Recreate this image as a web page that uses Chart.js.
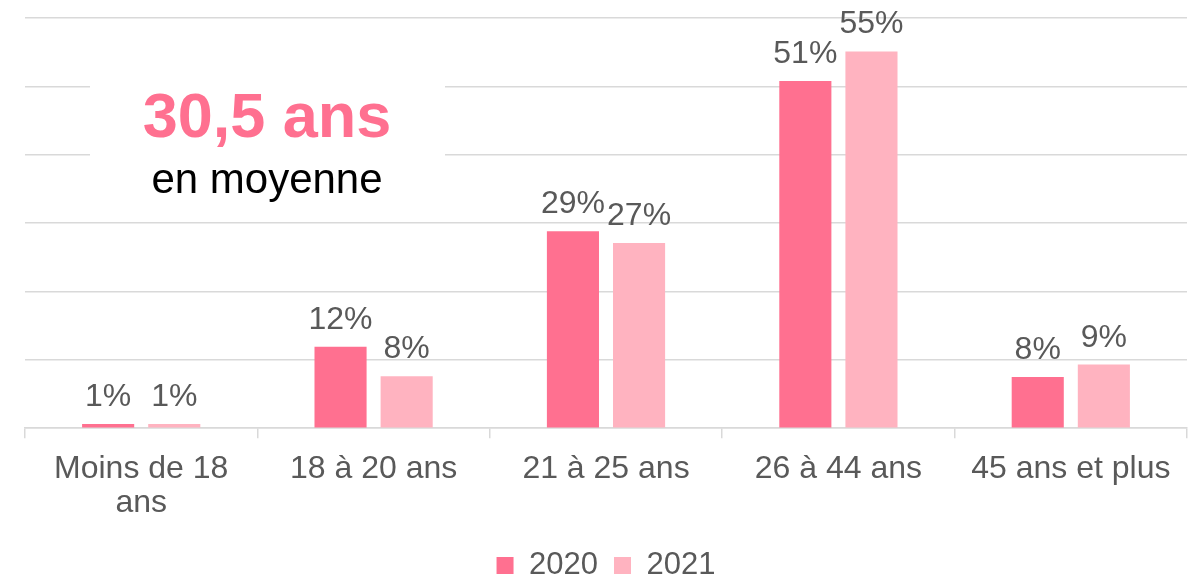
<!DOCTYPE html>
<html>
<head>
<meta charset="utf-8">
<script src="https://cdn.jsdelivr.net/npm/chart.js@4.4.1/dist/chart.umd.min.js"></script>
<style>
  html, body { margin: 0; padding: 0; background: #fff; }
  #wrap { width: 1195px; height: 574px; }
</style>
</head>
<body>
<div id="wrap"><canvas id="ageChart" width="1195" height="574"></canvas></div>
<script>
// tranches d'âge
const categories = [["Moins de 18", "ans"], "18 à 20 ans", "21 à 25 ans", "26 à 44 ans", "45 ans et plus"];
const seriesNames = ["2020", "2021"];
const values2020 = [0.6, 11.9, 28.8, 50.8, 7.5];
const values2021 = [0.6, 7.6, 27.1, 55.1, 9.3];
const valueLabels2020 = ["1%", "12%", "29%", "51%", "8%"];
const valueLabels2021 = ["1%", "8%", "27%", "55%", "9%"];
const yTicks = [0, 10, 20, 30, 40, 50, 60];

const colors = ["#FF7090", "#FFB3C0"];
const textGrey = "#595959";
const fontFamily = "'Liberation Sans', Arial, sans-serif";
// ajustements de hauteur pour placer la légende et l'axe x
const legendShift = 17;
const xAxisExtra = 0;

// étiquettes au-dessus des barres
const barLabels = {
    id: "barLabels",
    afterDatasetsDraw(chart) {
        const ctx = chart.ctx;
        const texts = [valueLabels2020, valueLabels2021];
        ctx.save();
        ctx.font = "32px " + fontFamily;
        ctx.fillStyle = textGrey;
        ctx.textAlign = "center";
        ctx.textBaseline = "alphabetic";
        chart.data.datasets.forEach((ds, i) => {
            chart.getDatasetMeta(i).data.forEach((bar, j) => {
                ctx.fillText(texts[i][j], bar.x, bar.y - 18);
            });
        });
        ctx.restore();
    }
};

// encadré "30,5 ans en moyenne"
const averageBox = {
    id: "averageBox",
    beforeDatasetsDraw(chart) {
        const ctx = chart.ctx;
        ctx.save();
        ctx.fillStyle = "#ffffff";
        ctx.fillRect(90, 60, 355, 150);
        ctx.textAlign = "center";
        ctx.textBaseline = "alphabetic";
        ctx.fillStyle = "#FF7090";
        ctx.font = "bold 63px " + fontFamily;
        ctx.fillText("30,5 ans", 267, 137);
        ctx.fillStyle = "#000000";
        ctx.font = "42px " + fontFamily;
        ctx.fillText("en moyenne", 267, 193);
        ctx.restore();
    }
};

// légende plus basse
const legendOffset = {
    id: "legendOffset",
    beforeInit(chart) {
        const origFit = chart.legend.fit;
        chart.legend.fit = function () {
            origFit.call(this);
            this.height -= legendShift;
        };
    }
};

new Chart(document.getElementById("ageChart"), {
    type: "bar",
    data: {
        labels: categories,
        datasets: [
            { label: seriesNames[0], data: values2020, backgroundColor: colors[0] },
            { label: seriesNames[1], data: values2021, backgroundColor: colors[1] },
        ],
    },
    options: {
        responsive: false,
        animation: false,
        layout: { padding: { left: 25, right: 8, top: 18, bottom: 0 } },
        categoryPercentage: 0.569,
        barPercentage: 0.788,
        scales: {
            x: {
                afterFit(scale) {
                    scale.height += xAxisExtra;
                },
                grid: {
                    display: true,
                    offset: true,
                    drawOnChartArea: false,
                    drawTicks: true,
                    tickLength: 10,
                    color: "#d9d9d9",
                    lineWidth: 1.5,
                },
                border: { display: true, color: "#d9d9d9", width: 1.5 },
                ticks: {
                    color: textGrey,
                    font: { family: fontFamily, size: 32, lineHeight: 1.06 },
                    padding: 14,
                    maxRotation: 0,
                    autoSkip: false,
                },
            },
            y: {
                min: yTicks[0],
                max: yTicks[yTicks.length - 1],
                afterBuildTicks(scale) {
                    scale.ticks = yTicks.map(v => ({ value: v }));
                },
                grid: { color: "#d9d9d9", lineWidth: 1.5, drawTicks: false },
                border: { display: false },
                ticks: { display: false },
            },
        },
        plugins: {
            legend: {
                position: "bottom",
                labels: {
                    color: textGrey,
                    boxWidth: 17,
                    boxHeight: 17,
                    padding: 16,
                    font: { family: fontFamily, size: 31 },
                },
            },
            tooltip: { enabled: false },
        },
    },
    plugins: [legendOffset, averageBox, barLabels],
});
</script>
</body>
</html>
